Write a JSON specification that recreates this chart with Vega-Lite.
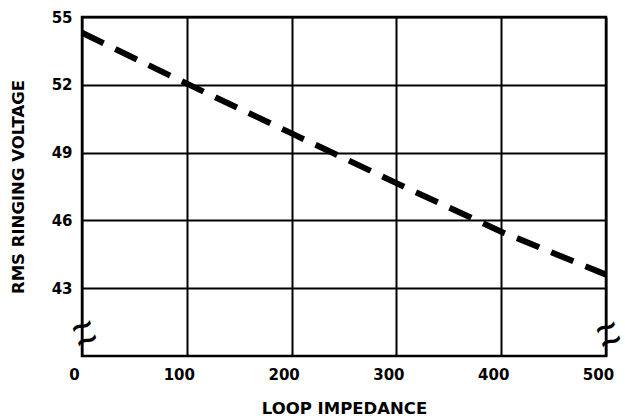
{
  "$schema": "https://vega.github.io/schema/vega-lite/v6.json",
  "width": 524,
  "height": 339,
  "autosize": "none",
  "padding": {"left": 82, "top": 17, "right": 19, "bottom": 64},
  "background": "white",
  "config": {
    "view": {"stroke": "black", "strokeWidth": 2.5},
    "font": "DejaVu Sans"
  },
  "layer": [
    {
      "data": {"values": [
        {"impedance": 0, "voltage": 54.3},
        {"impedance": 100, "voltage": 52.05},
        {"impedance": 200, "voltage": 49.85},
        {"impedance": 300, "voltage": 47.65},
        {"impedance": 400, "voltage": 45.5},
        {"impedance": 500, "voltage": 43.6}
      ]},
      "mark": {"type": "line", "strokeDash": [24, 13], "strokeWidth": 6, "color": "black", "strokeCap": "butt"},
      "encoding": {
        "x": {
          "field": "impedance", "type": "quantitative",
          "scale": {"domain": [0, 500], "nice": false},
          "axis": {
            "title": "LOOP IMPEDANCE",
            "values": [0, 100, 200, 300, 400, 500],
            "grid": true, "gridColor": "black", "gridWidth": 2, "gridOpacity": 1,
            "domain": false, "ticks": false,
            "labelFont": "DejaVu Sans", "labelFontWeight": "bold", "labelFontSize": 15, "labelColor": "black",
            "labelPadding": 11, "labelOffset": -8, "labelFlush": false,
            "titleFont": "DejaVu Sans", "titleFontSize": 16.5, "titleFontWeight": "bold", "titleColor": "black",
            "titlePadding": 18
          }
        },
        "y": {
          "field": "voltage", "type": "quantitative",
          "scale": {"domain": [40, 55], "nice": false, "zero": false},
          "axis": {
            "title": "RMS RINGING VOLTAGE",
            "values": [43, 46, 49, 52, 55],
            "grid": true, "gridColor": "black", "gridWidth": 2, "gridOpacity": 1,
            "domain": false, "ticks": false,
            "labelFont": "DejaVu Sans", "labelFontWeight": "bold", "labelFontSize": 15, "labelColor": "black",
            "labelPadding": 10, "labelFlush": false,
            "titleFont": "DejaVu Sans", "titleFontSize": 16.5, "titleFontWeight": "bold", "titleColor": "black",
            "titlePadding": 25
          }
        }
      }
    },
    {
      "data": {"values": [
        {"impedance": 0, "voltage": 41.3},
        {"impedance": 500, "voltage": 41.25}
      ]},
      "mark": {"type": "text", "text": ["~", "~"], "lineHeight": 15, "angle": 340, "fontSize": 30, "fontWeight": "bold", "color": "black", "baseline": "middle", "align": "center"},
      "encoding": {
        "x": {"field": "impedance", "type": "quantitative"},
        "y": {"field": "voltage", "type": "quantitative"}
      }
    }
  ]
}
